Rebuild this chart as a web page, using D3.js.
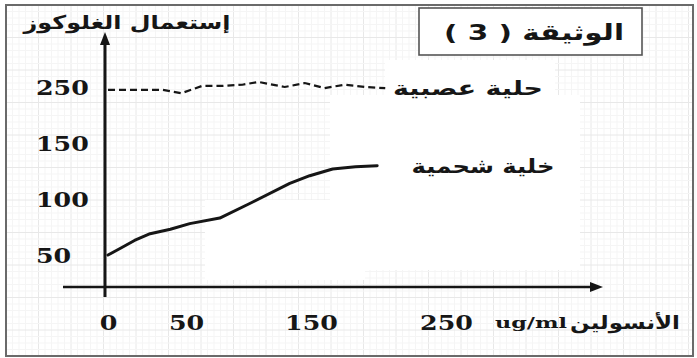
<!DOCTYPE html>
<html><head><meta charset="utf-8">
<script src="https://cdn.jsdelivr.net/npm/d3@7/dist/d3.min.js"></script>
<style>body{margin:0;background:#fff;overflow:hidden}</style>
</head><body>
<svg id="c" width="697" height="358"></svg>
<script>
// ---- data ----
const xTicks = [0, 50, 150, 250];
const yTicks = [50, 100, 150, 250];
// adipose cell (solid)
const solidX = [0, 8, 17, 27, 40, 53, 77, 101, 133, 149, 166, 183, 199];
const solidY = [50, 56, 63, 69, 73, 78, 83, 96, 114, 121, 127, 129, 130];
// nerve cell (dashed)
const dashedX = [0, 14, 35, 47, 63, 79, 95, 108, 129, 145, 160, 175, 190, 205];
const dashedY = [245, 245, 245, 239, 252, 252, 254, 259, 250, 257, 248, 254, 250, 248];
const seriesNames = ["حلية عصبية", "خلية شحمية"];
const yTitle = "إستعمال الغلوكوز";
const xTitle = "الأنسولين";
const xUnit = "ug/ml";
const docTitle = "الوثيقة ( 3 )";

// ---- drawing ----
const W = 697, H = 358;
const svg = d3.select("#c");
const ink = "#161616";

// hand-drawn, non-uniform axes -> piecewise linear scales
const x = d3.scaleLinear().domain(xTicks).range([108, 186, 311, 446]);
const y = d3.scaleLinear().domain(yTicks).range([255, 199, 143.5, 87]);

// graph paper background
const grid = svg.append("g");
d3.range(6, W, 6.5).forEach((gx, i) => grid.append("line")
  .attr("x1", gx).attr("x2", gx).attr("y1", 5).attr("y2", 356)
  .attr("stroke", i % 5 === 0 ? "#e8e8e8" : "#f5f5f5").attr("stroke-width", 1));
d3.range(5, H, 6.5).forEach((gy, i) => grid.append("line")
  .attr("x1", 6).attr("x2", 693).attr("y1", gy).attr("y2", gy)
  .attr("stroke", i % 5 === 0 ? "#e8e8e8" : "#f5f5f5").attr("stroke-width", 1));
// erased (white) patches of the scan
svg.append("rect").attr("x", 205).attr("y", 200).attr("width", 160).attr("height", 80).attr("fill", "#fff");
svg.append("rect").attr("x", 330).attr("y", 95).attr("width", 250).attr("height", 175).attr("fill", "#fff");
svg.append("rect").attr("x", 385).attr("y", 60).attr("width", 170).attr("height", 40).attr("fill", "#fff");

// outer frame
svg.append("rect").attr("x", 6).attr("y", 5).attr("width", 687).attr("height", 351)
  .attr("fill", "none").attr("stroke", "#6a6a6a").attr("stroke-width", 2);

// axes lines with arrows
svg.append("line").attr("x1", 63).attr("x2", 594).attr("y1", 287).attr("y2", 287)
  .attr("stroke", ink).attr("stroke-width", 2.6);
svg.append("path").attr("d", "M590,282 L603,287 L590,292 Z").attr("fill", ink);
svg.append("line").attr("x1", 105).attr("x2", 105).attr("y1", 297).attr("y2", 42)
  .attr("stroke", ink).attr("stroke-width", 3);
svg.append("path").attr("d", "M100,45 L105,32 L110,45 Z").attr("fill", ink);

const numFont = "'DejaVu Serif', 'Liberation Serif', serif";
// x tick labels
const gx = svg.append("g").attr("transform", "translate(0,330)")
  .call(d3.axisBottom(x).tickValues(xTicks).tickSize(0).tickPadding(0).tickFormat(d3.format("d")));
gx.select(".domain").remove();
gx.selectAll("text").attr("y", 0).attr("dy", null)
  .attr("font-family", numFont).attr("font-weight", "bold").attr("font-size", 20)
  .attr("fill", ink)
  .attr("textLength", d => 17.6 * String(d).length).attr("lengthAdjust", "spacingAndGlyphs");

// y tick labels (left aligned)
const gy = svg.append("g").attr("transform", "translate(36,0)")
  .call(d3.axisLeft(y).tickValues(yTicks).tickSize(0).tickPadding(0).tickFormat(d3.format("d")));
gy.select(".domain").remove();
gy.selectAll("text").attr("x", 0).attr("dy", "0.36em").attr("text-anchor", "start")
  .attr("font-family", numFont).attr("font-weight", "bold").attr("font-size", 20)
  .attr("fill", ink)
  .attr("textLength", d => 17.6 * String(d).length).attr("lengthAdjust", "spacingAndGlyphs");

// series lines
const line = d3.line().x(d => x(d[0])).y(d => y(d[1]));
svg.append("path").datum(d3.zip(dashedX, dashedY)).attr("d", line)
  .attr("fill", "none").attr("stroke", ink).attr("stroke-width", 2.2)
  .attr("stroke-dasharray", "7,4");
svg.append("path").datum(d3.zip(solidX, solidY)).attr("d", line)
  .attr("fill", "none").attr("stroke", ink).attr("stroke-width", 3)
  .attr("stroke-linejoin", "round").attr("stroke-linecap", "round");

const arFont = "'DejaVu Sans', 'Noto Sans', sans-serif";
function arText(str, cx, cy, size, len) {
  return svg.append("text").attr("x", cx).attr("y", cy).attr("dy", "0.35em")
    .attr("text-anchor", "middle").attr("direction", "rtl")
    .attr("font-family", arFont).attr("font-weight", "bold").attr("font-size", size)
    .attr("fill", ink).attr("textLength", len).attr("lengthAdjust", "spacingAndGlyphs")
    .text(str);
}
// legend labels
arText(seriesNames[0], 468, 88, 20, 150);
arText(seriesNames[1], 483, 166, 20, 143);
// y axis title
arText(yTitle, 127, 22, 19, 207);
// x axis title + unit
arText(xTitle, 625, 323, 18, 110);
svg.append("text").attr("x", 531).attr("y", 323).attr("dy", "0.35em")
  .attr("text-anchor", "middle").attr("font-family", numFont).attr("font-weight", "bold")
  .attr("font-size", 15).attr("fill", ink)
  .attr("textLength", 72).attr("lengthAdjust", "spacingAndGlyphs").text(xUnit);

// document title box
svg.append("rect").attr("x", 419).attr("y", 8).attr("width", 223).attr("height", 47)
  .attr("fill", "#fff").attr("stroke", "#555").attr("stroke-width", 1.6);
arText(docTitle, 534, 32, 22, 180);
</script>
</body></html>
